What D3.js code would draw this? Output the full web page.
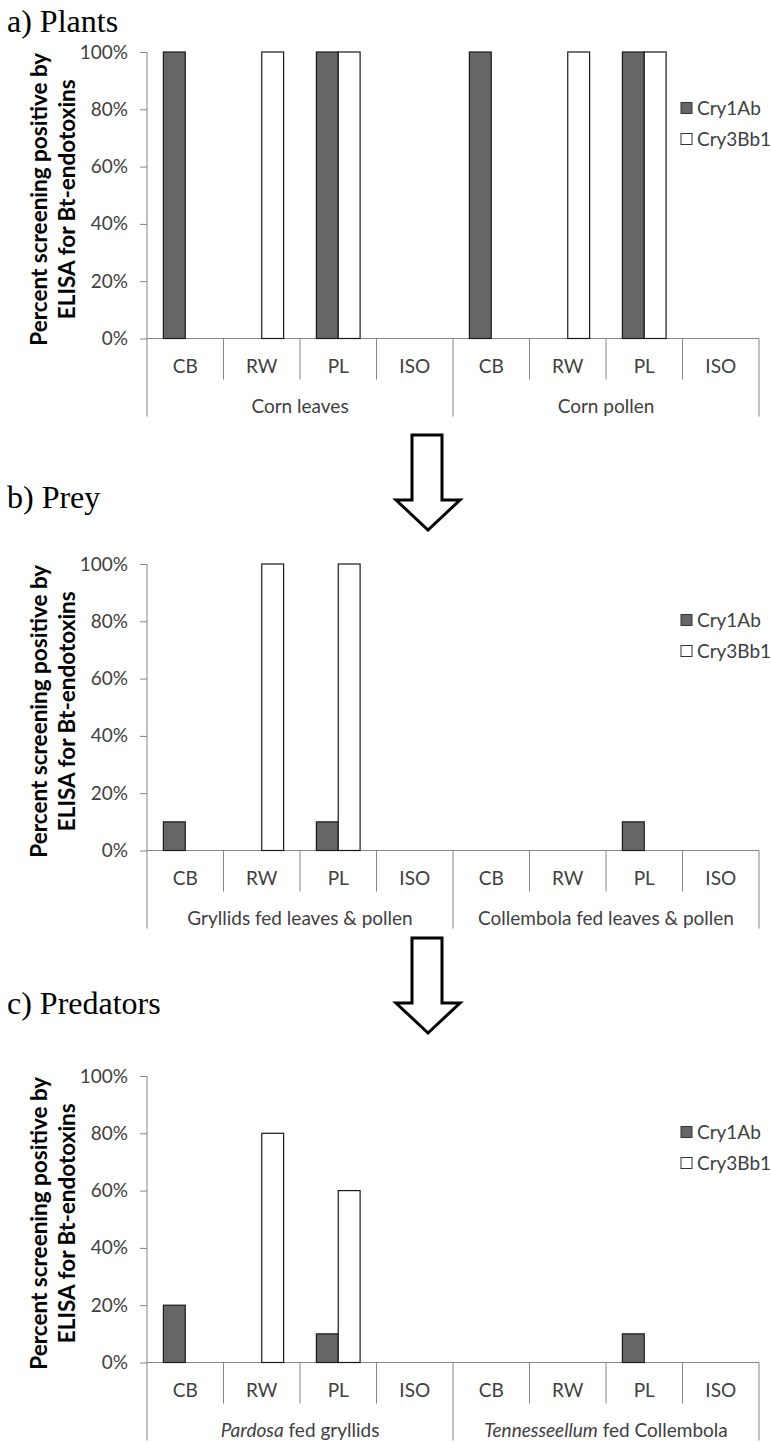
<!DOCTYPE html>
<html>
<head>
<meta charset="utf-8">
<script src="https://cdn.jsdelivr.net/npm/d3@7"></script>
<style>
  html, body { margin: 0; padding: 0; background: #fff; }
  svg { display: block; }
</style>
</head>
<body>
<svg id="chart" width="771" height="1442"></svg>
<script>
// Sample types along the x axis (repeated under each food group)
const categories = ["CB", "RW", "PL", "ISO"];
const seriesNames = ["Cry1Ab", "Cry3Bb1"];
const yTicks = [0, 20, 40, 60, 80, 100];

// a) Plants
const plantGroups = ["Corn leaves", "Corn pollen"];
const plantCry1Ab  = [100, 0, 100, 0, 100, 0, 100, 0];
const plantCry3Bb1 = [0, 100, 100, 0, 0, 100, 100, 0];

// b) Prey
const preyGroups = ["Gryllids fed leaves & pollen", "Collembola fed leaves & pollen"];
const preyCry1Ab  = [10, 0, 10, 0, 0, 0, 10, 0];
const preyCry3Bb1 = [0, 100, 100, 0, 0, 0, 0, 0];

// c) Predators (italic genus names are split off as the first part)
const predatorGroups = [["Pardosa", " fed gryllids"], ["Tennesseellum", " fed Collembola"]];
const predatorCry1Ab  = [20, 0, 10, 0, 0, 0, 10, 0];
const predatorCry3Bb1 = [0, 80, 60, 0, 0, 0, 0, 0];

const panelTitles = ["a) Plants", "b) Prey", "c) Predators"];

const svg = d3.select("#chart");
const FONT = "Lato, 'Open Sans', sans-serif";
const LABEL_SIZE = 19;
const axisGray = "#868686";
const textGray = "#404040";
const seriesFill = { "Cry1Ab": "#666666", "Cry3Bb1": "#ffffff" };

const left = 147, right = 759, plotH = 286.5;

const panels = [
  { title: panelTitles[0], titleY: 32,   top: 52,   groups: plantGroups,    a: plantCry1Ab,    b: plantCry3Bb1 },
  { title: panelTitles[1], titleY: 508,  top: 564,  groups: preyGroups,     a: preyCry1Ab,     b: preyCry3Bb1 },
  { title: panelTitles[2], titleY: 1014, top: 1076, groups: predatorGroups, a: predatorCry1Ab, b: predatorCry3Bb1 }
];

// x positions of every CB/RW/PL/ISO slot across both groups
const slotKeys = d3.range(8);
const x = d3.scaleBand().domain(slotKeys).range([left, right]).paddingInner(0).paddingOuter(0);
const xs = d3.scaleBand().domain(seriesNames).range([0, x.bandwidth()]).paddingInner(0).paddingOuter(0.75);

function drawPanel(p) {
  const g = svg.append("g");
  const bottom = p.top + plotH;
  const y = d3.scaleLinear().domain([0, 100]).range([bottom, p.top]);

  // panel heading
  g.append("text")
    .attr("x", 7).attr("y", p.titleY)
    .attr("font-family", "'Liberation Serif', 'Times New Roman', serif")
    .attr("font-size", 32)
    .attr("fill", "#000")
    .text(p.title);

  // y axis
  const yAxis = d3.axisLeft(y).tickValues(yTicks).tickFormat(d => d + "%").tickSize(7).tickPadding(12);
  const ya = g.append("g").attr("transform", `translate(${left},0)`).call(yAxis);
  ya.select(".domain").remove();
  ya.selectAll(".tick line").attr("stroke", axisGray);
  ya.selectAll(".tick text")
    .attr("font-family", FONT).attr("font-size", LABEL_SIZE).attr("fill", textGray);

  // vertical axis line running down through the label rows
  g.append("line")
    .attr("x1", left).attr("x2", left).attr("y1", p.top).attr("y2", bottom + 78)
    .attr("stroke", axisGray);

  // baseline
  g.append("line")
    .attr("x1", left).attr("x2", right).attr("y1", bottom).attr("y2", bottom)
    .attr("stroke", axisGray);

  // separators between categories (short) and groups (long)
  g.selectAll(".sep")
    .data(d3.range(1, 9))
    .join("line")
    .attr("x1", i => (i < 8 ? x(i) : right))
    .attr("x2", i => (i < 8 ? x(i) : right))
    .attr("y1", bottom)
    .attr("y2", i => (i % 4 === 0 ? bottom + 78 : bottom + 41))
    .attr("stroke", axisGray);

  // category labels
  g.selectAll(".cat")
    .data(slotKeys)
    .join("text")
    .attr("x", i => x(i) + x.bandwidth() / 2)
    .attr("y", bottom + 34)
    .attr("text-anchor", "middle")
    .attr("font-family", FONT).attr("font-size", LABEL_SIZE).attr("fill", textGray)
    .text(i => categories[i % 4]);

  // group labels
  const groupW = (right - left) / 2;
  p.groups.forEach((lab, gi) => {
    const t = g.append("text")
      .attr("x", left + groupW * gi + groupW / 2)
      .attr("y", bottom + 74)
      .attr("text-anchor", "middle")
      .attr("font-family", FONT).attr("font-size", LABEL_SIZE).attr("fill", textGray);
    if (Array.isArray(lab)) {
      t.append("tspan").attr("font-style", "italic").text(lab[0]);
      t.append("tspan").text(lab[1]);
    } else {
      t.text(lab);
    }
  });

  // bars
  const rows = [];
  slotKeys.forEach(i => {
    rows.push({ slot: i, s: "Cry1Ab", v: p.a[i] });
    rows.push({ slot: i, s: "Cry3Bb1", v: p.b[i] });
  });
  g.selectAll(".bar")
    .data(rows.filter(d => d.v > 0))
    .join("rect")
    .attr("x", d => x(d.slot) + xs(d.s))
    .attr("width", xs.bandwidth())
    .attr("y", d => y(d.v))
    .attr("height", d => y(0) - y(d.v))
    .attr("fill", d => seriesFill[d.s])
    .attr("stroke", "#1a1a1a")
    .attr("stroke-width", 1.2);

  // y axis title
  const midY = (p.top + bottom) / 2 + 4;
  const yt = g.append("text")
    .attr("transform", `translate(47,${midY}) rotate(-90)`)
    .attr("text-anchor", "middle")
    .attr("font-family", FONT).attr("font-weight", 700).attr("font-size", 22.5)
    .attr("fill", "#000");
  yt.append("tspan").attr("x", 0).attr("y", 0).text("Percent screening positive by");
  yt.append("tspan").attr("x", 0).attr("y", 28).text("ELISA for Bt-endotoxins");

  // legend
  seriesNames.forEach((s, si) => {
    const ly = p.top + 56 + si * 31;
    g.append("rect")
      .attr("x", 681).attr("y", ly - 5.5).attr("width", 11).attr("height", 11)
      .attr("fill", seriesFill[s]).attr("stroke", "#333").attr("stroke-width", 1);
    g.append("text")
      .attr("x", 697).attr("y", ly + 7)
      .attr("font-family", FONT).attr("font-size", LABEL_SIZE).attr("fill", textGray)
      .text(s);
  });
}

panels.forEach(drawPanel);

// downward arrows linking the trophic levels
function arrow(top) {
  const pts = [
    [412, top], [442, top], [442, top + 65], [460, top + 65],
    [428, top + 95], [396, top + 65], [412, top + 65]
  ];
  svg.append("path")
    .attr("d", d3.line()(pts) + "Z")
    .attr("fill", "#fff")
    .attr("stroke", "#000")
    .attr("stroke-width", 3)
    .attr("stroke-linejoin", "miter");
}
arrow(435);
arrow(938);
</script>
</body>
</html>
